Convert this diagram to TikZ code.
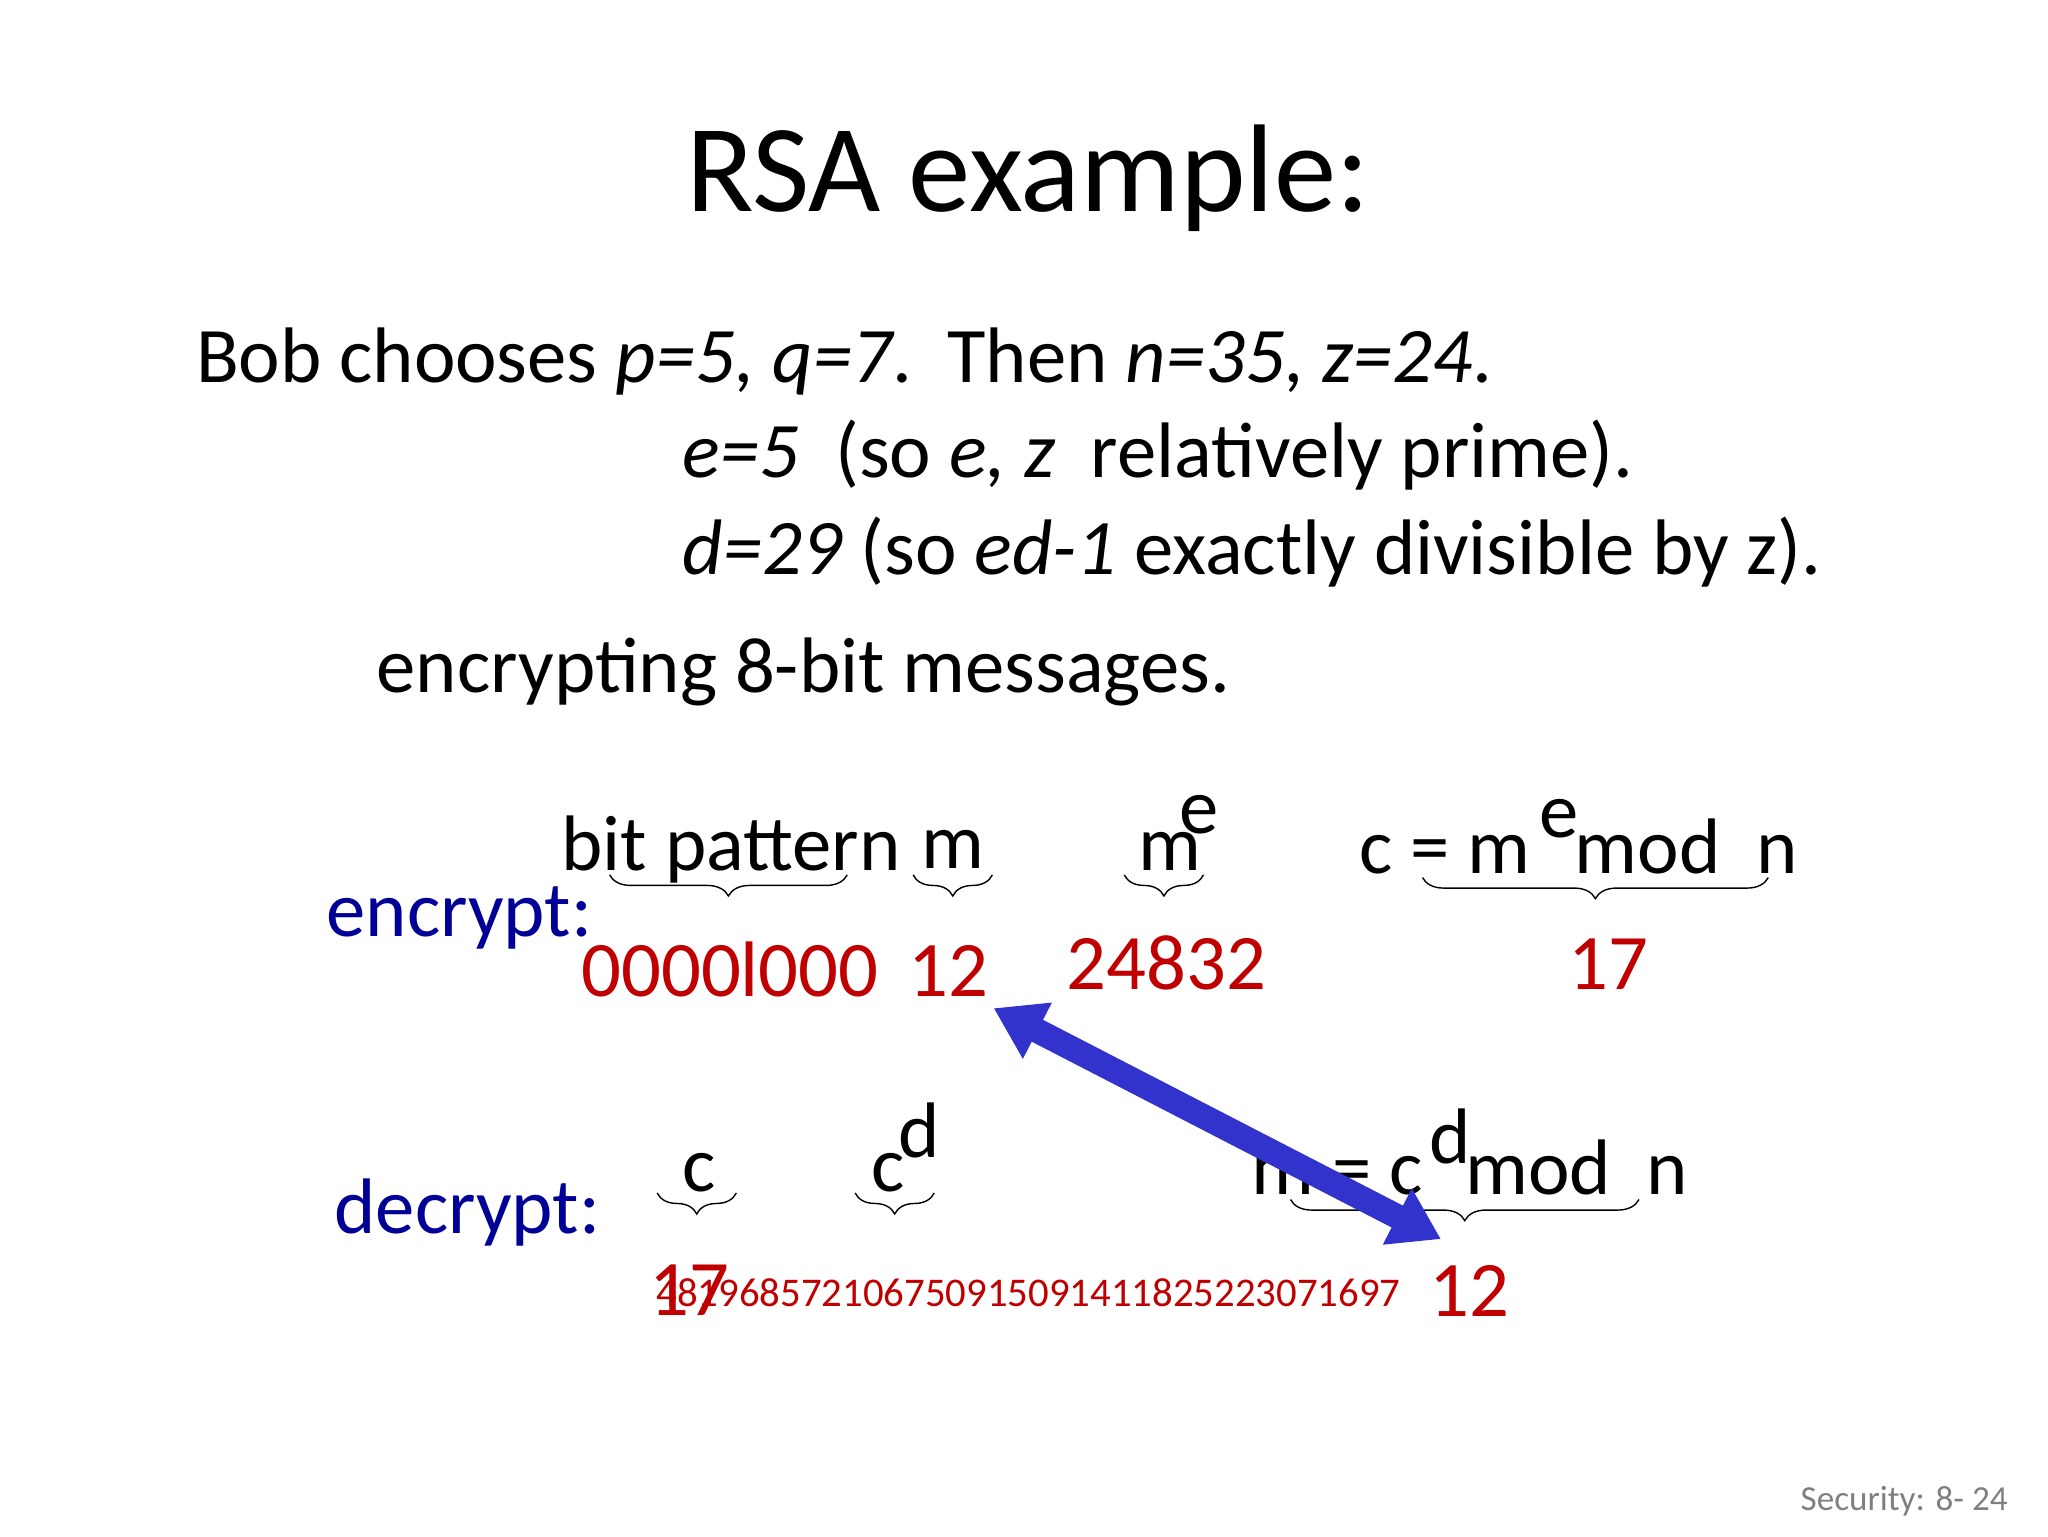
\documentclass[tikz,border=0pt]{standalone}
\usepackage{fontspec}
\setmainfont{Carlito}
\usetikzlibrary{decorations.pathreplacing,arrows.meta}
\definecolor{dkred}{RGB}{192,0,0}
\definecolor{dkblue}{RGB}{0,0,150}
\definecolor{arr}{RGB}{50,50,205}
\begin{document}
\begin{tikzpicture}[x=0.0132cm,y=-0.0132cm,
  txt/.style={anchor=base west,inner sep=0pt,font=\fontsize{22.4}{27}\selectfont},
  red/.style={txt,text=dkred},
  lbl/.style={txt,text=dkblue},
  sup/.style={txt},
  br/.style={decorate,decoration={brace,mirror,amplitude=6pt},thin}]
\useasboundingbox (0,0) rectangle (1552,1164);
\node[anchor=base,inner sep=0pt,font=\fontsize{35.5}{40}\selectfont] (title) at (779,160) {RSA example:};
\node[txt] (l1) at (148,290) {Bob chooses \textit{p=5, q=7}.\ \ Then \textit{n=35, z=24}.};
\node[txt] (l2) at (517,362) {\textit{e=5}\ \ (so \textit{e, z}\ \ relatively prime).};
\node[txt] (l3) at (517,435) {\textit{d=29} (so \textit{ed-1} exactly divisible by z).};
\node[txt] (l4) at (285,525) {encrypting 8-bit messages.};
% encrypt row
\node[txt] (bp) at (425,660) {bit pattern};
\node[txt] (m1) at (698,658) {m};
\node[txt] (m2) at (862,660) {m};
\node[sup] (e2) at (893,632) {e};
\node[txt] (c1) at (1030,662) {c = m};
\node[sup] (e3) at (1166,635) {e};
\node[txt] (mod1) at (1193,662) {mod\ \ n};
\draw[br] (462,663) -- (642,663);
\draw[br] (692,663) -- (752,663);
\draw[br] (852,663) -- (912,663);
\draw[br] (1078,665) -- (1340,665);
\node[lbl] (enc) at (247,710) {encrypt:};
\node[red] (r1) at (440,755) {0000l000};
\node[red] (r2) at (688,755) {12};
\node[red] (r3) at (808,750) {24832};
\node[red] (r4) at (1188,750) {17};
% decrypt row
\node[lbl] (dec) at (253,935) {decrypt:};
\node[txt] (c2) at (517,903) {c};
\node[txt] (c3) at (660,903) {c};
\node[sup] (d3) at (680,877) {d};
\node[txt] (mc) at (948,905) {m = c};
\node[sup] (d4) at (1083,882) {d};
\node[txt] (mod2) at (1110,905) {mod\ \ n};
\draw[br] (498,904) -- (558,904);
\draw[br] (648,904) -- (708,904);
\draw[br] (978,909) -- (1242,909);
\node[red] (r5) at (492,997) {17};
\node[anchor=base west,inner sep=0pt,text=dkred,font=\fontsize{11.6}{14}\selectfont] (big) at (497,990) {481968572106750915091411825223071697};
\node[red] (r6) at (1083,998) {12};
\coordinate (a1) at (753,764);
\coordinate (a2) at (1092,939);
\draw[arr,line width=7pt,{Triangle[length=14pt,width=17pt]}-{Triangle[length=14pt,width=17pt]}] (a1) -- (a2);
\node[anchor=base east,inner sep=0pt,text=gray,font=\fontsize{10}{12}\selectfont] (foot) at (1522,1145) {Security: 8- 24};
\end{tikzpicture}
\end{document}
